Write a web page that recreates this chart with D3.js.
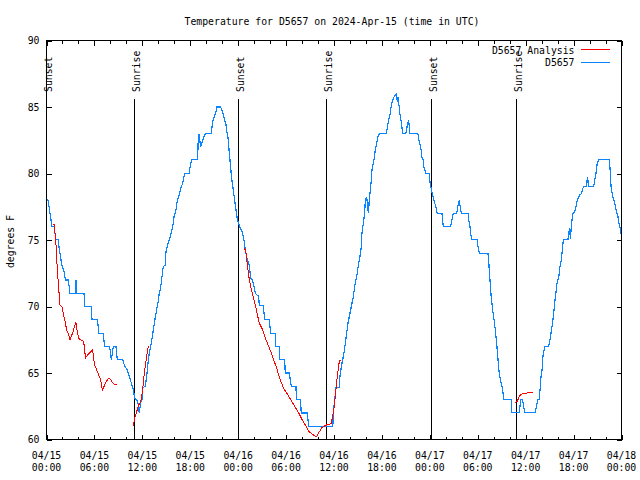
<!DOCTYPE html>
<html>
<head>
<meta charset="utf-8">
<script src="https://cdn.jsdelivr.net/npm/d3@7"></script>
<style>
  html, body { margin: 0; padding: 0; background: #fff; }
  svg { display: block; }
  text { font-family: "DejaVu Sans Mono", "Liberation Mono", monospace; font-size: 9.8px; fill: #000; }
</style>
</head>
<body>
<svg id="chart" width="640" height="480"></svg>
<script>
// ---------------- DATA ----------------
const chartTitle = "Temperature for D5657 on 2024-Apr-15 (time in UTC)";
const yLabel = "degrees F";
const startUTC = Date.UTC(2024, 3, 15, 0, 0);   // 04/15 00:00 UTC
const spanHours = 72;
const yTickValues = [60, 65, 70, 75, 80, 85, 90];
const seriesNames = ["D5657 Analysis", "D5657"];
const seriesColors = ["#ff0000", "#0a84ff"];

// Sun events: [hours after start, label]
const sunEvents = [[0.05, "Sunset"], [11.0, "Sunrise"], [24.1, "Sunset"], [35.0, "Sunrise"], [48.15, "Sunset"], [58.9, "Sunrise"]];

// Observed D5657 temperature: [hours after start, degF]
const observed = [
  [0.0,78.1],[0.19,78.0],[0.35,77.4],[0.5,76.75],[0.69,76.0],[0.94,76.0],[1.0,75.75],[1.19,75.05],[1.44,75.05],
  [1.5,74.75],[1.75,73.75],[1.94,73.05],[2.2,72.6],[2.36,72.0],[2.7,72.0],[2.85,71.5],[2.94,71.0],[3.6,71.0],
  [3.69,72.0],[3.75,71.0],[4.7,71.0],[4.78,70.0],[5.6,70.0],[5.7,69.0],[6.4,69.0],[6.53,68.0],[7.1,68.0],
  [7.28,67.0],[7.9,67.0],[8.12,66.0],[8.37,67.0],[8.7,67.0],[8.87,66.0],[9.54,66.0],[9.8,65.5],[10.1,65.25],
  [10.37,64.75],[10.62,64.25],[10.87,63.75],[11.04,63.1],[11.3,63.0],[11.45,62.75],[11.62,62.0],[11.79,62.75],
  [11.95,63.0],[12.04,63.9],[12.37,64.0],[12.54,64.75],[12.71,65.75],[12.87,66.5],[13.12,67.25],[13.37,68.2],
  [13.54,68.9],[13.79,69.75],[13.96,70.3],[14.12,71.0],[14.29,71.4],[14.46,72.25],[14.62,73.0],[14.85,73.1],
  [14.96,74.1],[15.21,74.75],[15.46,75.2],[15.71,75.8],[15.88,76.25],[15.97,76.75],[16.22,77.3],[16.38,78.0],
  [16.63,78.4],[16.88,79.0],[17.05,79.25],[17.3,80.0],[17.85,80.0],[18.05,80.75],[18.22,81.05],[18.93,81.05],
  [19.0,82.6],[19.1,83.0],[19.3,82.0],[19.5,82.4],[19.72,82.75],[19.88,83.0],[20.6,83.0],[20.7,83.4],
  [20.85,84.0],[21.1,84.4],[21.26,84.75],[21.35,85.0],[21.8,85.0],[21.97,84.75],[22.14,84.4],[22.3,84.0],
  [22.47,83.7],[22.55,83.25],[22.72,82.75],[22.8,82.25],[22.89,81.5],[23.06,80.5],[23.14,79.9],[23.22,79.5],
  [23.39,78.75],[23.56,78.0],[23.73,77.25],[23.89,76.6],[24.06,76.25],[24.15,76.05],[24.4,75.75],[24.56,75.5],
  [24.73,75.0],[24.9,74.2],[24.98,74.0],[25.15,73.5],[25.4,73.1],[25.57,72.1],[25.8,72.0],[25.98,71.5],
  [26.15,71.0],[26.57,70.75],[26.65,70.05],[27.15,70.05],[27.32,69.0],[27.9,69.0],[28.07,68.0],[28.65,68.0],
  [28.73,67.0],[29.15,67.0],[29.23,66.0],[29.82,66.0],[29.9,65.0],[30.4,65.0],[30.65,64.0],[31.23,64.0],
  [31.3,63.0],[31.8,63.0],[31.9,62.0],[32.65,62.0],[32.83,60.95],[35.84,60.95],[36.0,62.5],[36.09,63.0],
  [36.25,63.9],[36.65,63.9],[36.75,64.75],[36.92,65.5],[37.09,66.0],[37.25,66.5],[37.42,67.25],[37.59,68.0],
  [37.75,68.75],[38.0,69.5],[38.17,70.0],[38.42,70.75],[38.59,71.5],[38.84,72.25],[39.09,73.25],[39.25,73.75],
  [39.42,74.5],[39.5,75.5],[39.67,76.25],[39.84,77.0],[39.92,78.0],[40.1,78.2],[40.3,77.0],[40.42,78.0],
  [40.55,78.75],[40.67,79.5],[40.75,80.25],[41.0,81.0],[41.17,81.75],[41.34,82.25],[41.5,82.75],[41.67,83.0],
  [42.5,83.0],[42.67,83.4],[42.84,84.0],[43.0,84.4],[43.09,84.75],[43.17,85.1],[43.34,85.5],[43.5,85.75],
  [43.85,86.0],[43.92,85.4],[44.0,85.75],[44.17,85.0],[44.25,84.5],[44.42,83.9],[44.6,83.0],[45.0,83.0],
  [45.17,83.6],[45.35,84.0],[45.42,83.6],[45.5,83.0],[46.5,83.0],[46.6,82.6],[46.75,82.25],[46.92,81.75],
  [47.0,81.25],[47.17,81.0],[47.25,80.5],[47.52,80.0],[47.9,80.0],[47.95,79.75],[48.05,79.25],[48.2,78.75],
  [48.35,78.4],[48.5,78.0],[48.7,77.6],[48.94,77.0],[49.52,77.0],[49.6,76.5],[49.69,76.0],[50.6,76.0],
  [50.75,76.5],[50.94,77.0],[51.36,77.0],[51.5,77.5],[51.7,78.0],[51.8,77.5],[51.94,77.0],[52.78,77.0],
  [52.86,76.5],[53.03,76.0],[53.1,75.5],[53.28,75.05],[53.94,75.05],[54.0,74.6],[54.2,74.0],[55.28,74.0],
  [55.37,73.4],[55.53,72.0],[55.7,70.6],[55.87,69.75],[56.04,69.0],[56.2,68.25],[56.37,67.25],[56.54,66.0],
  [56.7,64.9],[56.87,64.4],[57.04,64.0],[57.29,63.0],[58.2,63.0],[58.25,62.05],[59.2,62.05],[59.38,63.0],
  [59.6,63.0],[59.88,62.05],[61.2,62.05],[61.38,62.6],[61.55,63.0],[61.72,63.0],[61.88,64.5],[62.05,65.25],
  [62.16,66.25],[62.38,67.0],[62.88,67.0],[63.05,67.5],[63.3,68.5],[63.47,69.25],[63.63,70.25],[63.8,71.1],
  [63.96,71.9],[64.13,72.1],[64.3,73.0],[64.46,73.5],[64.63,74.5],[64.72,75.05],[65.3,75.05],[65.4,75.5],
  [65.5,75.9],[65.6,75.1],[65.72,76.0],[65.8,76.5],[65.9,77.0],[66.14,77.1],[66.3,77.5],[66.47,78.0],
  [66.8,78.4],[67.0,78.5],[67.22,79.0],[67.55,79.0],[67.77,79.75],[67.85,79.0],[68.5,79.0],[68.8,80.0],
  [68.95,80.75],[69.2,81.05],[70.47,81.05],[70.55,80.5],[70.7,79.0],[70.9,78.25],[71.05,78.0],[71.2,77.6],
  [71.4,77.1],[71.56,76.75],[71.72,76.1],[71.9,75.75],[72.0,75.2]
];

// D5657 Analysis: [hours after start, degF]; null marks a gap
const analysis = [
  [0.77,76.2],[1.02,76.2],[1.02,75.9],[1.1,75.25],[1.19,74.6],[1.27,73.75],[1.36,72.6],[1.52,71.5],[1.6,70.75],
  [1.69,70.1],[1.94,70.0],[2.1,69.5],[2.28,69.0],[2.44,68.5],[2.6,68.1],[2.77,67.9],[2.94,67.5],[3.27,68.0],
  [3.52,68.5],[3.69,68.8],[3.86,68.1],[4.03,67.6],[4.28,67.5],[4.61,67.4],[4.78,66.9],[4.86,66.1],[5.2,66.4],
  [5.53,66.6],[5.78,66.75],[5.86,66.25],[6.03,65.6],[6.2,65.4],[6.36,65.1],[6.61,64.75],[6.78,64.5],[6.95,63.9],
  [7.03,63.75],[7.28,64.1],[7.53,64.4],[7.79,64.6],[8.04,64.5],[8.29,64.25],[8.54,64.1],[8.87,64.1],
  [9.0,null],
  [10.87,61.0],[11.04,61.6],[11.2,61.9],[11.37,62.25],[11.54,62.6],[11.7,62.75],[11.87,63.0],[12.04,63.75],
  [12.2,64.75],[12.37,65.5],[12.54,66.25],[12.71,66.9],[12.8,67.0],
  [13.0,null],
  [24.81,74.4],[24.98,74.0],[25.15,73.1],[25.4,72.0],[25.65,71.25],[25.82,70.9],[26.15,70.1],[26.32,69.6],
  [26.65,68.75],[27.07,68.25],[27.32,67.75],[27.82,67.0],[28.15,66.5],[28.49,65.9],[28.82,65.4],[28.99,65.0],
  [29.32,64.4],[29.65,63.9],[30.32,63.25],[30.57,63.0],[31.33,62.25],[31.58,62.0],[31.99,61.5],[32.49,61.0],
  [32.83,60.6],[33.66,60.25],[33.83,60.2],[34.08,60.5],[34.5,60.9],[34.75,61.0],[35.08,61.1],[35.66,61.2],
  [35.75,61.5],[35.91,62.0],[36.08,62.75],[36.25,63.75],[36.41,64.75],[36.58,65.5],[36.67,65.9],[36.83,66.0],
  [37.0,null],
  [58.7,62.8],[58.95,62.85],[59.1,63.1],[59.2,63.25],[59.45,63.4],[59.7,63.45],[60.2,63.5],[60.88,63.5]
];

// ---------------- LAYOUT ----------------
const margin = { left: 46.5, right: 621.5, top: 40.5, bottom: 439.5 };
const svg = d3.select("#chart");
const toDate = h => new Date(startUTC + h * 3600e3);

const x = d3.scaleUtc()
  .domain([toDate(0), toDate(spanHours)])
  .range([margin.left, margin.right]);
const y = d3.scaleLinear()
  .domain([60, 90])
  .range([margin.bottom, margin.top]);

const majorX = x.ticks(d3.utcHour.every(6));
const minorX = x.ticks(d3.utcHour.every(2));

// Ticks (inward, mirrored)
function tickGroup(axisGen, tx, ty) {
  const g = svg.append("g").attr("transform", `translate(${tx},${ty})`)
    .attr("shape-rendering", "crispEdges").call(axisGen);
  g.select(".domain").remove();
  g.selectAll(".tick line").attr("stroke", "#000");
  return g;
}
tickGroup(d3.axisBottom(x).tickValues(minorX).tickSize(-3).tickFormat(""), 0, margin.bottom);
tickGroup(d3.axisBottom(x).tickValues(majorX).tickSize(-5).tickFormat(""), 0, margin.bottom);
tickGroup(d3.axisTop(x).tickValues(minorX).tickSize(-3).tickFormat(""), 0, margin.top);
tickGroup(d3.axisTop(x).tickValues(majorX).tickSize(-5).tickFormat(""), 0, margin.top);
tickGroup(d3.axisLeft(y).tickValues(yTickValues).tickSize(-5).tickFormat(""), margin.left, 0);
tickGroup(d3.axisRight(y).tickValues(yTickValues).tickSize(-5).tickFormat(""), margin.right, 0);

// Tick labels
const fmtDate = d3.utcFormat("%m/%d");
const fmtTime = d3.utcFormat("%H:%M");
const xl = svg.append("g");
majorX.forEach(d => {
  xl.append("text").attr("x", x(d)).attr("y", 459).attr("text-anchor", "middle").text(fmtDate(d));
  xl.append("text").attr("x", x(d)).attr("y", 470.5).attr("text-anchor", "middle").text(fmtTime(d));
});
svg.append("g").selectAll("text").data(yTickValues).join("text")
  .attr("x", 39.5).attr("y", d => y(d) + 3.5).attr("text-anchor", "end").text(d => d);

// Title & axis label
svg.append("text").attr("x", 332).attr("y", 24.5).attr("text-anchor", "middle").text(chartTitle);
svg.append("text").attr("transform", "translate(13.5,241.5) rotate(-90)").attr("text-anchor", "middle").text(yLabel);

// Sun event lines
const ev = svg.append("g");
sunEvents.forEach(([h, lab]) => {
  const xp = Math.round(x(toDate(h)) - 0.5) + 0.5;
  ev.append("line").attr("x1", xp).attr("x2", xp).attr("y1", 99).attr("y2", margin.bottom)
    .attr("stroke", "#000").attr("stroke-width", 1).attr("shape-rendering", "crispEdges");
  ev.append("text").attr("transform", `translate(${xp + 5},92) rotate(-90)`).attr("text-anchor", "start").text(lab);
});

// Data lines
const line = d3.line()
  .defined(d => d[1] !== null)
  .x(d => x(toDate(d[0])))
  .y(d => y(d[1]));

svg.append("path").datum(observed)
  .attr("fill", "none").attr("stroke", seriesColors[1]).attr("stroke-width", 1.2)
  .attr("stroke-linejoin", "miter").attr("shape-rendering", "crispEdges").attr("d", line);
svg.append("path").datum(analysis)
  .attr("fill", "none").attr("stroke", seriesColors[0]).attr("stroke-width", 1)
  .attr("shape-rendering", "crispEdges").attr("d", line);

// Border
svg.append("rect").attr("x", margin.left).attr("y", margin.top)
  .attr("width", margin.right - margin.left).attr("height", margin.bottom - margin.top)
  .attr("fill", "none").attr("stroke", "#000").attr("stroke-width", 1).attr("shape-rendering", "crispEdges");

// Legend
const lg = svg.append("g");
seriesNames.forEach((name, i) => {
  const yy = 49.5 + i * 12.5;
  lg.append("text").attr("x", 574.5).attr("y", yy + 4).attr("text-anchor", "end").text(name);
  lg.append("line").attr("x1", 581).attr("x2", 610).attr("y1", yy).attr("y2", yy)
    .attr("stroke", seriesColors[i]).attr("stroke-width", 1).attr("shape-rendering", "crispEdges");
});
</script>
</body>
</html>
